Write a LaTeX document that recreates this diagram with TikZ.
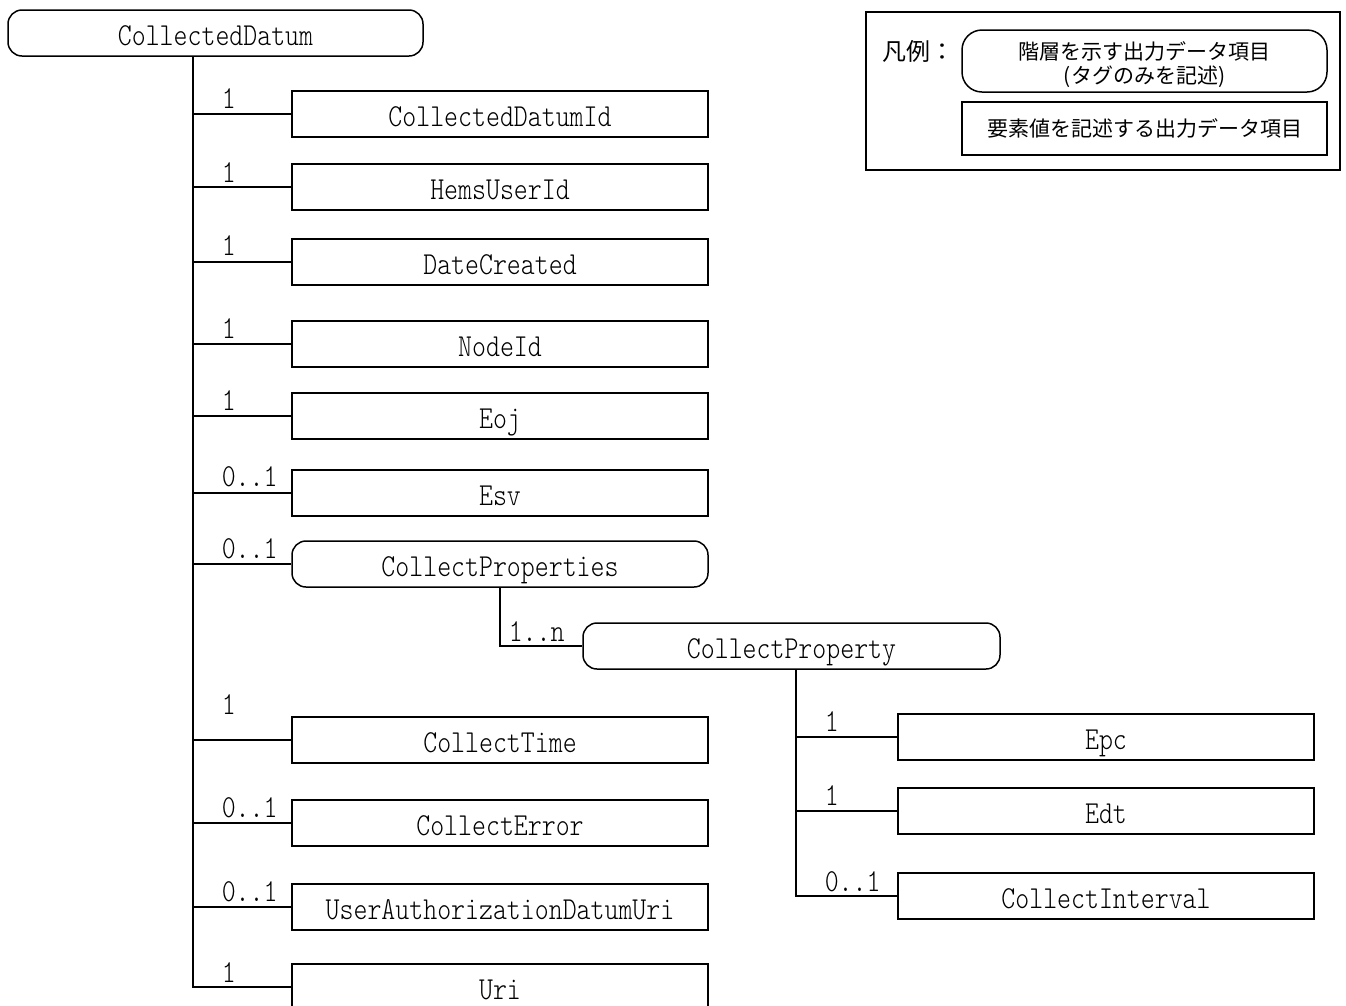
\documentclass[tikz,border=0pt]{standalone}
\usepackage{fontspec}
\newfontfamily\jpfont{Noto Sans CJK JP}
\newfontfamily\labfont[FakeStretch=0.83]{lmmonolt10-regular.otf}
\begin{document}
\begin{tikzpicture}[x=1pt,y=-1pt,line width=1.5pt,
  leaf/.style={draw,rectangle,minimum width=416pt,minimum height=46pt,inner sep=0pt,
    font=\labfont\fontsize{32}{32}\selectfont,text height=29pt,text depth=4pt},
  group/.style={leaf,rounded corners=14pt},
  mult/.style={anchor=base west,inner sep=0pt,font=\labfont\fontsize{32}{32}\selectfont},
  jp/.style={font=\jpfont\fontsize{21}{24}\selectfont,align=center}]
\useasboundingbox (0,0) rectangle (1346,1005);

% root element
\node[group,minimum width=415pt] (cd) at (215.5,33) {CollectedDatum};

% first-level children
\node[leaf]  (cdi)  at (500,114) {CollectedDatumId};
\node[leaf]  (hui)  at (500,187) {HemsUserId};
\node[leaf]  (dc)   at (500,262) {DateCreated};
\node[leaf]  (ni)   at (500,344) {NodeId};
\node[leaf]  (eoj)  at (500,416) {Eoj};
\node[leaf]  (esv)  at (500,493) {Esv};
\node[group] (cps)  at (500,564) {CollectProperties};
\node[leaf]  (ct)   at (500,740) {CollectTime};
\node[leaf]  (ce)   at (500,823) {CollectError};
\node[leaf]  (uadu) at (500,907) {UserAuthorizationDatumUri};
\node[leaf]  (uri)  at (500,987) {Uri};

% nested group
\node[group,minimum width=417pt] (cp) at (791.5,646) {CollectProperty};
\node[leaf] (epc) at (1106,737) {Epc};
\node[leaf] (edt) at (1106,811) {Edt};
\node[leaf] (ci)  at (1106,896) {CollectInterval};

% trunk of the root
\coordinate (trunk) at (193,0);
\draw (cd.south -| trunk) -- (trunk |- uri.west) -- (uri.west);
\foreach \n in {cdi,hui,dc,ni,eoj,esv,cps,ct,ce,uadu}
  \draw (trunk |- \n.west) -- (\n.west);

% CollectProperties -> CollectProperty
\draw (cps.south) -- (cps.south |- cp.west) -- (cp.west);

% trunk of CollectProperty
\coordinate (ptrunk) at (796,0);
\draw (cp.south -| ptrunk) -- (ptrunk |- ci.west) -- (ci.west);
\foreach \n in {epc,edt}
  \draw (ptrunk |- \n.west) -- (\n.west);

% multiplicities
\node[mult] (m1)  at (221,108) {1};
\node[mult] (m2)  at (221,182) {1};
\node[mult] (m3)  at (221,255) {1};
\node[mult] (m4)  at (221,338) {1};
\node[mult] (m5)  at (221,410) {1};
\node[mult] (m6)  at (221,486) {0..1};
\node[mult] (m7)  at (221,558) {0..1};
\node[mult] (m8)  at (221,714) {1};
\node[mult] (m9)  at (221,817) {0..1};
\node[mult] (m10) at (221,901) {0..1};
\node[mult] (m11) at (221,982) {1};
\node[mult] (m12) at (508,641) {1..n};
\node[mult] (m13) at (824,731) {1};
\node[mult] (m14) at (824,805) {1};
\node[mult] (m15) at (824,891) {0..1};

% legend
\node[draw,rectangle,inner sep=0pt,minimum width=474pt,minimum height=158pt] (lg) at (1103,91) {};
\node[font=\jpfont\fontsize{24}{24}\selectfont,inner sep=0pt] (lgt) at (918,51) {凡例：};
\node[draw,rectangle,rounded corners=20pt,inner sep=0pt,minimum width=365pt,minimum height=62pt,jp] (lg1) at (1144.5,61) {\rule{0pt}{25pt}階層を示す出力データ項目\\(タグのみを記述)};
\node[draw,rectangle,inner sep=0pt,minimum width=365pt,minimum height=53pt,jp,text height=18pt,text depth=2pt] (lg2) at (1144.5,128.5) {要素値を記述する出力データ項目};
\end{tikzpicture}
\end{document}
